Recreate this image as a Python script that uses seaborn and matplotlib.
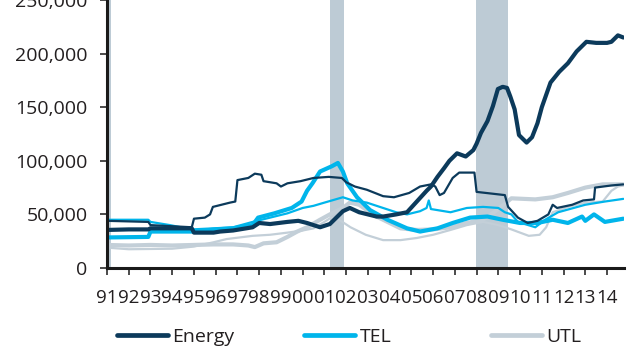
import matplotlib
matplotlib.use("Agg")
import matplotlib.pyplot as plt
from matplotlib.lines import Line2D
from matplotlib.ticker import FuncFormatter
import numpy as np
import pandas as pd
import seaborn as sns

# values in thousands (x = decimal year)
energy_thick_yr = [1991.0, 1992.0, 1992.9, 1993.0, 1994.0, 1994.9, 1995.0, 1995.9, 1996.2, 1996.8,
                   1997.7, 1998.0, 1998.5, 1999.3, 1999.8, 2000.2, 2000.8, 2001.25, 2001.6, 2001.85,
                   2002.17, 2002.6, 2003.0, 2003.4, 2003.7, 2004.3, 2004.8, 2005.25, 2005.7, 2005.9,
                   2006.2, 2006.5, 2006.75, 2007.1, 2007.5, 2007.85, 2008.0, 2008.2, 2008.5, 2008.75,
                   2008.98, 2009.2, 2009.4, 2009.55, 2009.75, 2009.95, 2010.3, 2010.55, 2010.8, 2011.0,
                   2011.4, 2011.8, 2012.2, 2012.6, 2013.05, 2013.5, 2014.0, 2014.2, 2014.5, 2014.75]
energy_thick = [35.5, 36, 36, 37, 37, 37, 33, 33, 34, 35,
                38, 42, 41, 43, 44, 42, 38, 41, 48, 53,
                56, 52, 50, 48, 48, 50, 52, 62, 72, 76,
                85, 93, 100, 107, 104, 110, 116, 126, 137, 151,
                167, 169, 168, 160, 148, 124, 117, 122, 135, 150,
                173, 183, 191, 202, 211, 210, 210, 211, 217, 215]

energy_thin_yr = [1991.0, 1992.9, 1993.0, 1994.9, 1995.0, 1995.5, 1995.74, 1995.87, 1996.66, 1996.9,
                  1997.0, 1997.5, 1997.8, 1998.1, 1998.2, 1998.8, 1999.0, 1999.3, 1999.9, 2000.5,
                  2001.2, 2001.8, 2002.0, 2002.4, 2002.95, 2003.7, 2004.2, 2004.9, 2005.4, 2005.9,
                  2006.1, 2006.3, 2006.5, 2006.9, 2007.2, 2007.9, 2008.0, 2009.3, 2009.45, 2009.9,
                  2010.35, 2010.8, 2011.3, 2011.5, 2011.7, 2012.4, 2012.9, 2013.4, 2013.45, 2014.2,
                  2014.75]
energy_thin = [44, 43, 40, 38, 46, 47, 50, 57, 61, 62,
               82, 84, 88, 87, 81, 79, 76, 79, 81, 84,
               85, 84, 80, 76, 73, 67, 66, 70, 76, 78,
               76, 68, 70, 84, 89, 89, 71, 68, 57, 47,
               42, 44, 50, 59, 56, 59, 63, 64, 75, 77,
               78]

tel_thick_yr = [1991.0, 1992.9, 1993.0, 1995.0, 1996.0, 1996.8, 1997.7, 1997.95, 1998.7, 1999.5,
                1999.95, 2000.2, 2000.45, 2000.8, 2001.35, 2001.62, 2001.85, 2002.05, 2002.5, 2003.1,
                2003.9, 2004.8, 2005.4, 2006.2, 2006.9, 2007.7, 2008.5, 2009.2, 2010.0, 2010.8,
                2011.5, 2012.2, 2012.85, 2013.0, 2013.4, 2013.9, 2014.75]
tel_thick = [28.5, 29, 34, 34, 36, 37, 40, 47, 51, 56,
             62, 72, 79, 90, 95, 98, 90, 79, 66, 54,
             45, 37, 34, 37, 42, 47, 48, 45, 42, 42,
             45, 42, 48, 44, 50, 43, 46]

tel_thin_yr = [1991.0, 1992.9, 1993.0, 1993.9, 1994.9, 1995.9, 1996.8, 1997.7, 1998.5, 1999.3,
               2000.0, 2000.5, 2001.0, 2001.85, 2002.3, 2002.95, 2003.55, 2004.3, 2004.8, 2005.4,
               2005.7, 2005.8, 2005.9, 2006.8, 2007.55, 2008.3, 2009.0, 2009.3, 2009.6, 2009.9,
               2010.7, 2011.15, 2011.75, 2013.0, 2013.9, 2014.75]
tel_thin = [45, 45, 43, 40, 36, 37, 38, 43, 47, 51,
            56, 58, 61, 66, 63, 61, 57, 52, 50, 53,
            56, 63, 55, 52, 56, 57, 56, 52, 50, 43,
            38, 45, 52, 59, 62, 64.5]

utl_thick_yr = [1991.0, 1992.0, 1993.0, 1994.0, 1995.0, 1995.9, 1996.8, 1997.5, 1997.8, 1998.2,
                1998.8, 1999.3, 1999.75, 2000.2, 2000.8, 2001.25, 2001.85, 2002.17, 2002.6, 2002.95,
                2003.2, 2003.7, 2004.0, 2004.5, 2005.25, 2006.0, 2006.8, 2007.55, 2008.3, 2008.8,
                2009.3, 2009.6, 2010.7, 2011.5, 2012.2, 2013.0, 2013.8, 2014.75]
utl_thick = [21.5, 21, 21.5, 21, 21.5, 22, 22, 21, 19.5, 23,
             24, 29, 34, 38, 45, 50, 56, 61, 59, 54,
             50, 45, 42, 37, 35.5, 36, 38, 42, 45, 52,
             60, 65, 64, 66, 70, 75, 78, 78]

utl_thin_yr = [1991.0, 1992.0, 1994.0, 1995.0, 1995.9, 1996.5, 1997.7, 1998.5, 1999.3, 2000.0,
               2000.5, 2001.0, 2001.3, 2001.6, 2001.9, 2002.2, 2002.9, 2003.7, 2004.5, 2005.25,
               2006.0, 2006.8, 2007.55, 2008.3, 2009.0, 2009.6, 2010.0, 2010.4, 2010.9, 2011.2,
               2011.5, 2012.2, 2013.0, 2013.8, 2014.2, 2014.5, 2014.75]
utl_thin = [19, 17.5, 18, 20, 24, 27, 30, 31, 33, 35,
            37, 43, 47, 46, 42, 38, 31, 26, 26, 28,
            31, 35.5, 40, 43, 40, 36, 33, 30, 31, 38,
            52, 57, 61, 62, 72, 76, 77]

recessions = [(1990.6, 1991.2), (2001.25, 2001.9), (2007.95, 2009.45)]

series_names = ["Energy", "TEL", "UTL"]
navy, cyan, grey = "#0c3a5b", "#00b5eb", "#c3cfd8"
shade = "#bdcbd5"
text_col = "#231f20"

sns.set_style("ticks")
plt.rcParams["font.family"] = ["Open Sans", "DejaVu Sans"]

fig = plt.figure(figsize=(6.4, 3.6), dpi=100)
ax = fig.add_axes([107 / 640, 1 - 268 / 360, (624 - 107) / 640, 268 / 360])

for start, end in recessions:
    ax.axvspan(start, end, color=shade, lw=0, zorder=0)

lines = [
    (utl_thin_yr, utl_thin, grey, 1.6),
    (utl_thick_yr, utl_thick, grey, 3.0),
    (tel_thin_yr, tel_thin, cyan, 1.6),
    (tel_thick_yr, tel_thick, cyan, 3.0),
    (energy_thin_yr, energy_thin, navy, 1.6),
    (energy_thick_yr, energy_thick, navy, 3.0),
]
for yrs, vals, col, lw in lines:
    df = pd.DataFrame({"year": yrs, "value": np.array(vals) * 1000})
    sns.lineplot(data=df, x="year", y="value", ax=ax, color=col, lw=lw,
                 estimator=None, sort=False, legend=False)

ax.set_xlim(1991, 2014.78)
ax.set_ylim(0, 250000)
ax.set_xticks(range(1991, 2015))
ax.set_xticklabels([f"{y % 100:02d}" for y in range(1991, 2015)])
ax.set_yticks(range(0, 250001, 50000))
ax.yaxis.set_major_formatter(FuncFormatter(lambda v, p: f"{v:,.0f}"))
ax.set_xlabel("")
ax.set_ylabel("")

sns.despine(ax=ax)
for s in ["left", "bottom"]:
    ax.spines[s].set_linewidth(2.2)
    ax.spines[s].set_color("#1a1a1a")
ax.tick_params(axis="y", length=5, width=1.1, color="#1a1a1a", pad=9,
               labelsize=14, labelcolor=text_col)
ax.tick_params(axis="x", length=5, width=1.1, color="#1a1a1a", pad=10,
               labelsize=13.5, labelcolor=text_col)

# legend, one entry at a time so the spacing matches
legend_x = [117, 304, 491]
for name, col, x0 in zip(series_names, [navy, cyan, grey], legend_x):
    h = Line2D([], [], color=col, lw=3.4, solid_capstyle="round")
    fig.legend(handles=[h], labels=[name], loc="center left",
               bbox_to_anchor=(x0 / 640, 1 - 337 / 360), frameon=False,
               borderpad=0, borderaxespad=0, handlelength=2.6,
               handletextpad=0.25, fontsize=14, labelcolor=text_col)

fig.savefig("out.png", dpi=100)
